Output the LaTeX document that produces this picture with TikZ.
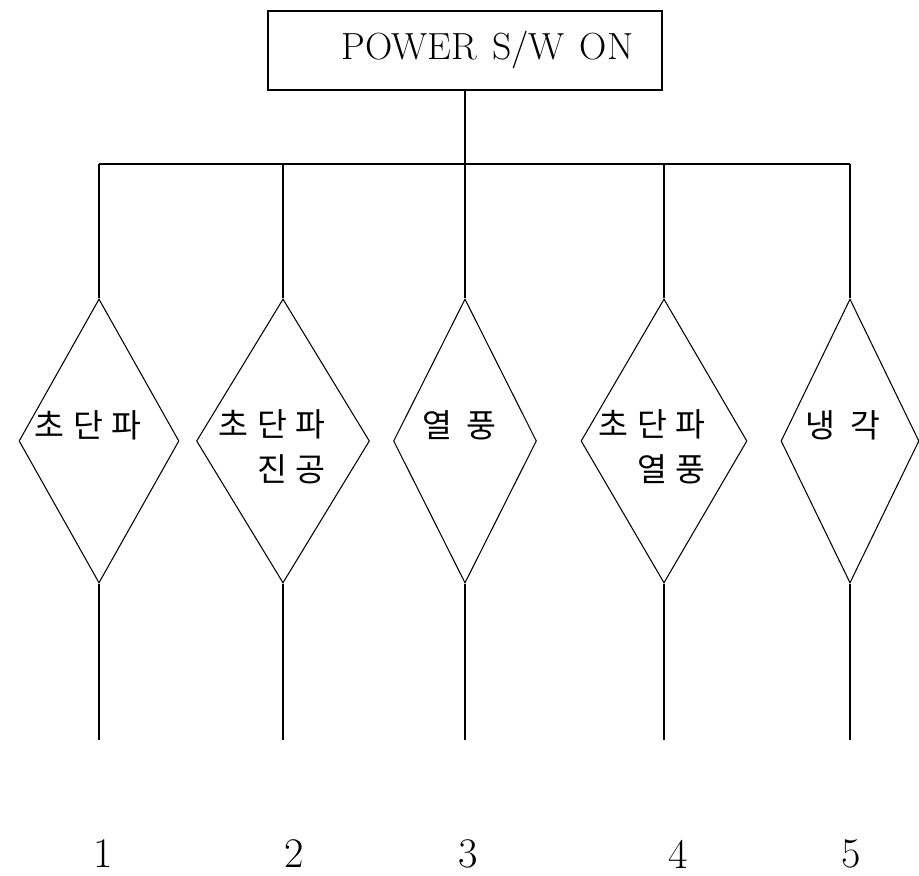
\documentclass[tikz,border=0pt]{standalone}
\usepackage{fontspec}
\newfontfamily\krfont[LetterSpace=26]{Noto Sans CJK KR}
\usetikzlibrary{shapes.geometric}
\tikzset{
  wire/.style={black, line width=0.6pt},
  swbox/.style={draw=black, line width=0.7pt, minimum width=7.88cm,
                minimum height=1.58cm, inner sep=0pt,
                font=\fontsize{21.5}{24}\selectfont},
  mode/.style={draw=black, line width=0.6pt, shape=diamond,
               minimum height=5.68cm, inner sep=0pt},
  krlab/.style={font=\fontsize{18.5}{25.6}\selectfont\krfont,
                align=right, inner sep=0pt},
  numlab/.style={font=\fontsize{24}{26}\selectfont, inner sep=0pt},
}

\begin{document}
\begin{tikzpicture}[x=1cm,y=1cm]
  \path[use as bounding box] (0,0) rectangle (18.38,17.52);

  \node[swbox] (pw) at (9.30,16.51)
    {\hspace*{0.9cm}POWER\hspace{0.3cm}S/W\hspace{0.3cm}ON};

  % the five operating modes
  \node[mode, minimum width=3.20cm] (d1) at (1.98,8.70) {};
  \node[mode, minimum width=3.46cm] (d2) at (5.66,8.70) {};
  \node[mode, minimum width=2.86cm] (d3) at (9.30,8.70) {};
  \node[mode, minimum width=3.32cm] (d4) at (13.28,8.70) {};
  \node[mode, minimum width=2.76cm] (d5) at (17.00,8.70) {};

  \node[krlab] (t1) at (1.76,9.02) {초단파};
  \node[krlab] (t2) at (5.44,8.59) {초단파\\진공};
  \node[krlab] (t3) at (9.19,9.02) {열\hspace{3mm}풍};
  \node[krlab] (t4) at (13.04,8.59) {초단파\\열풍};
  \node[krlab] (t5) at (16.86,9.02) {냉\hspace{3mm}각};

  % power line and branches
  \coordinate (bus3) at (pw.south |- 0,14.24);
  \foreach \i in {1,2,4,5}
    \coordinate (bus\i) at (d\i.north |- bus3);
  \draw[wire] (pw.south) -- (bus3);
  \draw[wire] (bus1) -- (bus5);
  \foreach \i in {1,...,5} {
    \coordinate (end\i) at (d\i.south |- 0,2.72);
    \draw[wire] (bus\i) -- (d\i.north);
    \draw[wire] (d\i.south) -- (end\i);
  }

  \node[numlab] (n1) at (2.06,0.44) {1};
  \node[numlab] (n2) at (5.88,0.44) {2};
  \node[numlab] (n3) at (9.36,0.44) {3};
  \node[numlab] (n4) at (13.56,0.44) {4};
  \node[numlab] (n5) at (17.02,0.44) {5};
\end{tikzpicture}
\end{document}
